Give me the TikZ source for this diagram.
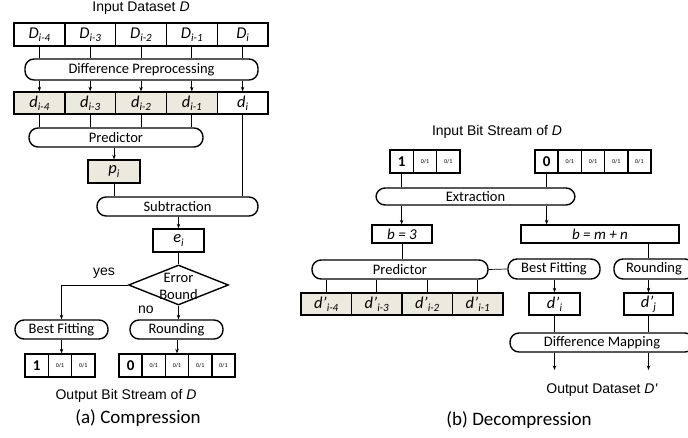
\documentclass[tikz,border=0pt]{standalone}
\usepackage{fontspec}
\setmainfont{Carlito}
\newfontfamily\arialfont{Liberation Sans}
\usetikzlibrary{arrows.meta,shapes.geometric}
\definecolor{cellshade}{RGB}{236,233,223}
\newcommand{\dvar}[2]{\textit{#1}\raisebox{-0.4ex}{\fontsize{11}{11}\selectfont\textit{#2}}}

\begin{document}
\begin{tikzpicture}[x=1pt, y=-1pt,
    box/.style={draw, line width=1.4pt, inner sep=0pt, font=\fontsize{14.5}{16}\selectfont},
    cell/.style={box, minimum height=23, font=\fontsize{16.5}{18}\selectfont},
    bitcell/.style={box, minimum width=23.3, minimum height=23},
    bittext/.style={font=\fontsize{6}{7}\selectfont},
    bitone/.style={font=\bfseries\fontsize{15}{16}\selectfont},
    pill/.style={box, rounded corners=9pt, minimum height=19, fill=white},
    wire/.style={line width=0.7pt},
    arr/.style={wire, -{Stealth[length=4.5pt,width=3.5pt]}},
    lbl/.style={font=\arialfont\fontsize{14}{16}\selectfont},
    caption/.style={font=\fontsize{19}{21}\selectfont}]
    \useasboundingbox (0,0) rectangle (688,438);

    % (a) Compression
    \node[lbl] (ina) at (141,8) {Input Dataset \textit{D}};
    \foreach \s [count=\k] in {i-4,i-3,i-2,i-1,i}
        \node[cell, minimum width=50.8] (D\k) at ({14+50.8*(\k-0.5)},34.5) {\dvar{D}{\s}};
    \foreach \s/\c [count=\k] in {i-4/cellshade,i-3/cellshade,i-2/cellshade,i-1/cellshade,i/white}
        \node[cell, minimum width=50.8, minimum height=22, fill=\c] (d\k) at ({14+50.8*(\k-0.5)},103) {\dvar{d}{\s}};
    \node[pill, minimum width=233, minimum height=21] (diff) at (141.5,69.5) {Difference Preprocessing};
    \foreach \k in {1,...,5} {
        \draw[wire] (D\k.south) -- (D\k.south |- diff.north);
        \draw[arr] (D\k.south |- diff.south) -- (d\k.north);
    }

    \node[pill, minimum width=174] (pred) at (116,137.5) {Predictor};
    \foreach \k in {1,...,4}
        \draw[wire] (d\k.south) -- (d\k.south |- pred.north);
    \node[cell, minimum width=52, fill=cellshade] (p) at (114,171.5) {\dvar{p}{i}};
    \draw[arr] (p.north |- pred.south) -- (p.north);

    \node[pill, minimum width=161] (sub) at (177.5,206.5) {Subtraction};
    \draw[wire] (p.south) -- (p.south |- sub.north);
    \draw[wire] (d5.south) -- (d5.south |- sub.north);
    \node[cell, minimum width=51] (e) at (178.5,240.5) {\dvar{e}{i}};
    \draw[arr] (e.north |- sub.south) -- (e.north);

    % decision
    \node[draw, diamond, line width=1.4pt, minimum width=100, minimum height=40, inner sep=0pt] (bound) at (178.5,285) {};
    \node[align=center, font=\fontsize{14.5}{17}\selectfont] (boundtxt) at (178.5,286) {Error\\Bound};
    \draw[wire] (e.south) -- (bound.north);
    \node[lbl] (yes) at (104,273) {yes};
    \node[lbl] (no) at (146,310) {no};

    \node[pill, minimum width=93] (fit) at (61.5,329.5) {Best Fitting};
    \node[pill, minimum width=93] (rnd) at (176.5,329.5) {Rounding};
    \draw[arr] (bound.west) -| (fit.north);
    \draw[arr] (bound.south) -- (bound.south |- rnd.north);

    % output bits
    \node[bitcell, bitone] (oa1) at (36.65,365.5) {1};
    \foreach \k in {2,3}
        \node[bitcell, bittext] (oa\k) at ({25+23.3*(\k-0.5)},365.5) {0/1};
    \node[bitcell, bitone] (ob1) at (130.6,365.5) {0};
    \foreach \k in {2,...,5}
        \node[bitcell, bittext] (ob\k) at ({119+23.2*(\k-0.5)},365.5) {0/1};
    \draw[arr] (fit.south) -- (fit.south |- oa2.north);
    \draw[arr] (ob3.north |- rnd.south) -- (ob3.north);

    \node[lbl] (outa) at (126,396) {Output Bit Stream of \textit{D}};
    \node[caption] (capa) at (138,418) {(a) Compression};

    % (b) Decompression
    \node[lbl] (inb) at (497,132) {Input Bit Stream of \textit{D}};
    \node[bitcell, bitone] (ga1) at (401.65,161.5) {1};
    \foreach \k in {2,3}
        \node[bitcell, bittext] (ga\k) at ({390+23.3*(\k-0.5)},161.5) {0/1};
    \node[bitcell, bitone] (gb1) at (546.6,161.5) {0};
    \foreach \k in {2,...,5}
        \node[bitcell, bittext] (gb\k) at ({535+23.2*(\k-0.5)},161.5) {0/1};

    \node[pill, minimum width=199, minimum height=17] (ext) at (475.5,196.5) {Extraction};
    \draw[wire] (ga1.south) -- (ga1.south |- ext.north);
    \draw[wire] (gb1.south) -- (gb1.south |- ext.north);

    \node[cell, minimum width=60, minimum height=18, font=\fontsize{15}{16}\selectfont] (bthree) at (402,234) {\textit{b = 3}};
    \node[cell, minimum width=158, minimum height=18, font=\fontsize{15}{16}\selectfont] (bmn) at (600,234) {\textit{b = m + n}};
    \draw[arr] (ga1.south |- ext.south) -- (ga1.south |- bthree.north);
    \draw[arr] (gb1.south |- ext.south) -- (gb1.south |- bmn.north);

    \node[pill, minimum width=176] (predb) at (400,269.5) {Predictor};
    \node[pill, minimum width=92, minimum height=20] (fitb) at (554,269) {Best Fitting};
    \node[pill, minimum width=80, minimum height=20] (rndb) at (654,269) {Rounding};
    \draw[wire] (bthree.south) -- (bthree.south |- predb.north);
    \draw[wire] (predb.east) -- (fitb.west);

    \foreach \s [count=\k] in {i-4,i-3,i-2,i-1} {
        \node[cell, minimum width=50.5, minimum height=22, fill=cellshade] (r\k) at ({301+50.5*(\k-0.5)},304) {\dvar{d'}{\s}};
        \draw[wire] (r\k.north |- predb.south) -- (r\k.north);
    }
    \node[cell, minimum width=51, minimum height=22] (di) at (554.5,304) {\dvar{d'}{i}};
    \node[cell, minimum width=49, minimum height=22] (dj) at (648.5,304) {\dvar{d'}{j}};
    \draw[wire] (dj.north |- bmn.south) -- (dj.north |- rndb.north);
    \draw[arr] (di.north |- fitb.south) -- (di.north);
    \draw[arr] (dj.north |- rndb.south) -- (dj.north);

    \node[pill, minimum width=184] (map) at (602,342.5) {Difference Mapping};
    \draw[wire] (di.south) -- (di.south |- map.north);
    \draw[wire] (dj.south) -- (dj.south |- map.north);
    \coordinate (outi) at (554.5,370);
    \coordinate (outj) at (648.5,370);
    \draw[arr] (di.south |- map.south) -- (outi);
    \draw[arr] (dj.south |- map.south) -- (outj);

    \node[lbl] (outb) at (602,390) {Output Dataset \textit{D'}};
    \node[caption] (capb) at (519,420) {(b) Decompression};
\end{tikzpicture}
\end{document}
